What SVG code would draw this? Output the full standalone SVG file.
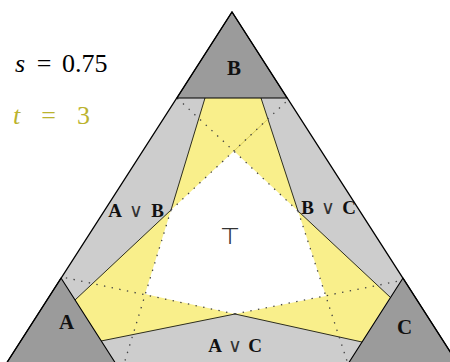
<svg xmlns="http://www.w3.org/2000/svg" width="450" height="362" viewBox="0 0 450 362">
<style>
.band{fill:#cdcdcd;stroke:none}
.corner{fill:#9b9b9b;stroke:#000;stroke-width:1.1;stroke-linejoin:round}
.edge{fill:none;stroke:#000;stroke-width:1.3}
.solid{fill:none;stroke:#2e2e1e;stroke-width:1}
.dot{fill:none;stroke:#444;stroke-width:1.3;stroke-dasharray:1.4 6.4}
.lbl{font-family:"Liberation Serif","DejaVu Serif",serif;font-weight:bold;fill:#111;text-anchor:middle}
.op{font-family:"DejaVu Sans","Liberation Sans",sans-serif;font-weight:normal;fill:#333;text-anchor:middle}
.math{font-family:"Liberation Serif","DejaVu Serif",serif;font-size:26px}
</style>
<rect width="450" height="362" fill="#fff"/>
<g id="bands">
<polygon class="band" points="232,12 6,364 458,364"/>
</g>
<g id="yellow">
<polygon fill="#f9ef8b" points="205,98 261,98 298,211 390,297 362,342 235,314 101,341 75,300 171,210"/>
</g>
<g id="top">
<polygon fill="#fff" points="234,151 298,211 326,296 235,314 145,294 171,210"/>
</g>
<g id="connectors">
<polyline class="solid" points="205,98 171,210 75,300"/>
<polyline class="solid" points="261,98 298,211 390,297"/>
<polyline class="solid" points="362,342 235,314 101,341"/>
<line x1="234" y1="151" x2="268" y2="119" stroke="#d9cc5a" stroke-width="1"/>
<line class="dot" x1="171" y1="210" x2="288" y2="100"/>
<line class="dot" x1="298" y1="211" x2="177" y2="98"/>
<line class="dot" x1="235" y1="314" x2="62" y2="277"/>
<line class="dot" x1="235" y1="314" x2="404" y2="280"/>
<line class="dot" x1="171" y1="210" x2="124" y2="364"/>
<line class="dot" x1="298" y1="211" x2="348" y2="364"/>
</g>
<g id="nodeA"><polygon class="corner" points="61,278 6,364 116,364"/><text class="lbl" x="66.5" y="329" font-size="21">A</text></g>
<g id="nodeB"><polygon class="corner" points="232,12 177,98 287,98"/><text class="lbl" x="234" y="75" font-size="21">B</text></g>
<g id="nodeC"><polygon class="corner" points="403,278 348,364 458,364"/><text class="lbl" x="404.5" y="334" font-size="21">C</text></g>
<g id="outline">
<polyline class="edge" points="6,364 232,12 458,364"/>
</g>
<g id="nodeAB"><text class="lbl" x="115" y="217" font-size="19">A</text><text class="op" x="136" y="217" font-size="19">∨</text><text class="lbl" x="157.5" y="217" font-size="19">B</text></g>
<g id="nodeBC"><text class="lbl" x="307.5" y="214" font-size="19">B</text><text class="op" x="328" y="214" font-size="19">∨</text><text class="lbl" x="349" y="214" font-size="19">C</text></g>
<g id="nodeAC"><text class="lbl" x="215" y="352" font-size="19">A</text><text class="op" x="235" y="352" font-size="19">∨</text><text class="lbl" x="255" y="352" font-size="19">C</text></g>
<g id="nodeTop"><text x="230" y="244" font-family="DejaVu Sans,sans-serif" font-size="23" fill="#333" text-anchor="middle" font-weight="300">⊤</text></g>
<g id="params">
<text class="math" x="15" y="72" font-style="italic">s</text>
<text class="math" x="44" y="72" text-anchor="middle">=</text>
<text class="math" x="62" y="72">0.75</text>
<g fill="#bbb32e">
<text class="math" x="13" y="124" font-style="italic">t</text>
<text class="math" x="48.5" y="124" text-anchor="middle">=</text>
<text class="math" x="77" y="124">3</text>
</g>
</g>
</svg>
